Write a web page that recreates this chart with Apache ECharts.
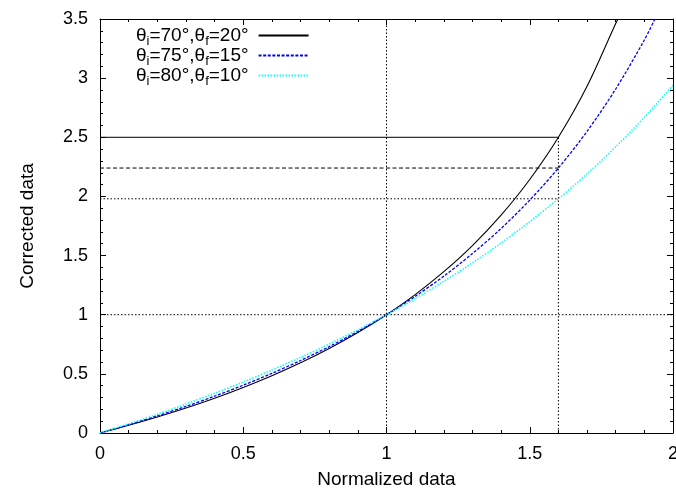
<!DOCTYPE html>
<html>
<head>
<meta charset="utf-8">
<script src="https://cdn.jsdelivr.net/npm/echarts@6/dist/echarts.min.js"></script>
<style>html,body{margin:0;padding:0;background:#fff;}#c{width:676px;height:490px;}</style>
</head>
<body>
<div id="c"></div>
<script>
// ---- data ----
const thetaI = [70, 75, 80];
const thetaF = [20, 15, 10];
const seriesNames = ['θi=70°,θf=20°', 'θi=75°,θf=15°', 'θi=80°,θf=10°'];

const xBlack = [0, 0.1, 0.2, 0.3, 0.4, 0.5, 0.6, 0.7, 0.8, 0.9, 1.0, 1.1, 1.2, 1.3, 1.4, 1.5, 1.6, 1.7, 1.8, 1.808];
const yBlack = [0, 0.065, 0.135, 0.211, 0.294, 0.385, 0.484, 0.593, 0.714, 0.849, 1.0, 1.17, 1.364, 1.585, 1.842, 2.143, 2.5, 2.931, 3.462, 3.5];

const xBlue = [0, 0.1, 0.2, 0.3, 0.4, 0.5, 0.6, 0.7, 0.8, 0.9, 1.0, 1.1, 1.2, 1.3, 1.4, 1.5, 1.6, 1.7, 1.8, 1.9, 1.937];
const yBlue = [0, 0.070, 0.145, 0.225, 0.311, 0.404, 0.504, 0.613, 0.730, 0.859, 1.0, 1.155, 1.326, 1.517, 1.729, 1.969, 2.24, 2.55, 2.908, 3.322, 3.5];

const xCyan = [0, 0.1, 0.2, 0.3, 0.4, 0.5, 0.6, 0.7, 0.8, 0.9, 1.0, 1.1, 1.2, 1.3, 1.4, 1.5, 1.6, 1.7, 1.8, 1.9, 2.0];
const yCyan = [0, 0.078, 0.159, 0.245, 0.336, 0.431, 0.532, 0.639, 0.752, 0.872, 1.0, 1.136, 1.282, 1.438, 1.606, 1.786, 1.98, 2.191, 2.419, 2.669, 2.941];

// reference guide lines
const refSolid   = [[0, 2.5], [1.6, 2.5]];
const refDashed  = [[0, 2.24], [1.6, 2.24]];
const refDotY198 = [[0, 1.98], [1.6, 1.98]];
const refDotY1   = [[0, 1], [2, 1]];
const refDotX1   = [[1, 0], [1, 3.5]];
const refDotX16  = [[1.6, 0], [1.6, 2.5]];

const xTicks = { min: 0, max: 2, interval: 0.5 };
const yTicks = { min: 0, max: 3.5, interval: 0.5 };

// ---- chart ----
const FONT = "'Liberation Sans', Arial, Helvetica, sans-serif";
const pair = (xs, ys) => xs.map((x, i) => [x, ys[i]]);

const chart = echarts.init(document.getElementById('c'), null, { renderer: 'canvas' });

function axisCommon(showLabels) {
  return {
    axisLine: { show: true, onZero: false, lineStyle: { color: '#000', width: 1 } },
    axisTick: { show: true, inside: true, length: 6, lineStyle: { color: '#000', width: 1 } },
    minorTick: { show: true, splitNumber: 5, length: 3, lineStyle: { color: '#000', width: 1 } },
    splitLine: { show: false },
    minorSplitLine: { show: false },
    axisLabel: { show: showLabels, color: '#000', fontSize: 18, fontFamily: FONT, margin: 12 }
  };
}

function guide(data, type) {
  return {
    type: 'line', data: data, symbol: 'none', silent: true, z: 1,
    lineStyle: { color: '#000', width: 1, type: type },
    animation: false
  };
}

const option = {
  animation: false,
  backgroundColor: '#fff',
  textStyle: { fontFamily: FONT },
  grid: { left: 100, right: 3, top: 19, bottom: 57, containLabel: false, outerBoundsMode: 'none' },
  legend: {
    data: seriesNames,
    orient: 'vertical',
    left: 131,
    top: 18,
    align: 'right',
    itemWidth: 50,
    itemHeight: 12,
    itemGap: -5,
    selectedMode: false,
    itemStyle: { opacity: 0 },
    formatter: function (name) {
      const k = seriesNames.indexOf(name);
      return '{a|θ}{s|i}{a|=' + thetaI[k] + '°,θ}{s|f}{a|=' + thetaF[k] + '°}';
    },
    textStyle: {
      color: '#000',
      fontFamily: FONT,
      padding: [0, 5, 0, 0],
      rich: {
        a: { fontSize: 19, fontFamily: FONT, color: '#000', lineHeight: 16 },
        s: { fontSize: 13, fontFamily: FONT, color: '#000', lineHeight: 5, padding: [12, 0, 0, 0] }
      }
    }
  },
  xAxis: [
    Object.assign({
      type: 'value', position: 'bottom',
      min: xTicks.min, max: xTicks.max, interval: xTicks.interval,
      name: 'Normalized data', nameLocation: 'middle', nameGap: 37,
      nameTextStyle: { color: '#000', fontSize: 19, fontFamily: FONT }
    }, axisCommon(true)),
    Object.assign({
      type: 'value', position: 'top',
      min: xTicks.min, max: xTicks.max, interval: xTicks.interval
    }, axisCommon(false))
  ],
  yAxis: [
    Object.assign({
      type: 'value', position: 'left',
      min: yTicks.min, max: yTicks.max, interval: yTicks.interval,
      name: 'Corrected data', nameLocation: 'middle', nameGap: 63, nameRotate: 90,
      nameTextStyle: { color: '#000', fontSize: 19, fontFamily: FONT }
    }, axisCommon(true)),
    Object.assign({
      type: 'value', position: 'right',
      min: yTicks.min, max: yTicks.max, interval: yTicks.interval
    }, axisCommon(false))
  ],
  series: [
    guide(refSolid, 'solid'),
    guide(refDashed, [4, 2.5]),
    guide(refDotY198, [1.5, 2]),
    guide(refDotY1, [1.5, 2]),
    guide(refDotX1, [1.5, 2]),
    guide(refDotX16, [1.5, 2]),
    {
      name: seriesNames[0], type: 'line', data: pair(xBlack, yBlack),
      symbol: 'none', smooth: 0.3, z: 3,
      lineStyle: { color: '#000', width: 1.1, type: 'solid' },
      itemStyle: { color: '#000' }
    },
    {
      name: seriesNames[1], type: 'line', data: pair(xBlue, yBlue),
      symbol: 'none', smooth: 0.3, z: 4,
      lineStyle: { color: '#0000ff', width: 1.3, type: [3, 1.6] },
      itemStyle: { color: '#0000ff' }
    },
    {
      name: seriesNames[2], type: 'line', data: pair(xCyan, yCyan),
      symbol: 'none', smooth: 0.3, z: 5,
      lineStyle: { color: '#00ffff', width: 1.5, type: [1.5, 1.5] },
      itemStyle: { color: '#00ffff' }
    }
  ]
};

chart.setOption(option);
</script>
</body>
</html>
